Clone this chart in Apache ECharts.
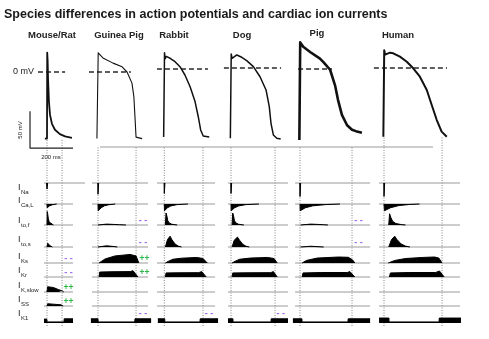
<!DOCTYPE html>
<html>
<head>
<meta charset="utf-8">
<script src="https://cdn.jsdelivr.net/npm/echarts@6/dist/echarts.min.js"></script>
<style>
  html, body { margin: 0; padding: 0; background: #fff; }
  #chart { width: 489px; height: 339px; }
</style>
</head>
<body>
<div id="chart"></div>
<script>
// ---- data -----------------------------------------------------------------
const speciesNames = ['Mouse/Rat', 'Guinea Pig', 'Rabbit', 'Dog', 'Pig', 'Human'];
const currentRows = ['Na', 'Ca,L', 'to,f', 'to,s', 'Ks', 'Kr', 'K,slow', 'SS', 'K1'];

// action potentials: [time from upstroke (ms), membrane potential (mV)]
const apMouse = [[-10, -90], [0, -90], [1, 26], [3, 15], [5, -10], [9, -40], [14, -58], [23, -70], [37, -78], [60, -84], [84, -87], [116, -89]];
const apGuineaPig = [[-5, -90], [0, -90], [1, 26], [23, 19], [70, 12], [112, 7], [135, 0], [158, -15], [167, -34], [172, -61], [177, -88], [183, -90], [205, -90]];
const apRabbit = [[-3, -92], [0, -92], [1, 22], [4, 14], [9, 17], [27, 14.5], [50, 9.9], [73, 3.1], [96, -8.1], [120, -23.9], [143, -44], [158, -64.5], [169, -82.4], [181, -90.5], [209, -92]];
const apDog = [[-3, -95], [0, -95], [1, 19], [5, 13], [11, 15.3], [27, 17.6], [50, 14.5], [73, 9.9], [104, 1.8], [135, -11.8], [163, -29.7], [178, -52.3], [186, -74.7], [197, -90.5], [213, -95], [231, -96]];
const apPig = [[-3, -96], [0, -96], [1, 36], [15, 30], [47, 23], [93, 14], [110, 9], [140, -1], [163, -22], [177, -42], [195, -62], [219, -76], [242, -82], [260, -84], [288, -86]];
const apHuman = [[-3, -93], [0, -93], [1, 24], [5, 18], [12.6, 19], [28, 20.7], [43, 19.9], [74, 15.3], [106, 8.5], [136, -0.4], [167, -11.8], [199, -29.7], [222, -50], [245, -70], [268, -86], [292, -93]];
const apTraces = [apMouse, apGuineaPig, apRabbit, apDog, apPig, apHuman];

const apDuration = [70, 177, 180, 205, 242, 270];                 // ms, end of repolarisation
const zeroRefSpan = [[-42, 84], [-42, 153], [-34, 203], [-33, 233], [-9, 149], [-47, 293]];
const recordSpan = [[-14, 121], [-28, 233], [-34, 236], [-14, 265], [-23, 326], [-23, 353]];
const naRecordSpan = [[-14, 177], [-28, 233], [-34, 236], [-14, 265], [-23, 326], [-23, 353]];

// scale bar: 200 ms x 50 mV
const scaleBarMs = 200;
const scaleBarMv = 50;

// ionic currents, normalised (outward positive, inward negative): [ms, amplitude]
const currentsMouse = {
  'Na': [[-2, 0], [0, -0.4], [1, -0.4], [3, 0]],
  'Ca,L': [[0, 0], [1, -0.25], [5, -0.2], [12, -0.12], [25, -0.05], [45, 0]],
  'to,f': [[0, 0], [1, 0.9], [3, 0.75], [6, 0.45], [10, 0.2], [16, 0.07], [30, 0]],
  'to,s': [[0, 0], [3, 0.25], [8, 0.2], [15, 0.08], [25, 0]],
  'Ks': [], 'Kr': [],
  'K,slow': [[0, 0], [3, 0.35], [10, 0.42], [30, 0.3], [55, 0.15], [70, 0.08], [78, 0]],
  'SS': [[0, 0], [3, 0.15], [30, 0.12], [65, 0.08], [75, 0]],
  'K1': [[-14, 0.26], [-1, 0.26], [0, 0.07], [79, 0.07], [80, 0.28], [121, 0.28]]
};
const currentsGuineaPig = {
  'Na': [[-1, 0], [0, -0.75], [1.5, -0.75], [3, 0]],
  'Ca,L': [[0, 0], [1, -0.45], [5, -0.4], [15, -0.25], [30, -0.12], [50, -0.05], [80, 0]],
  'to,f': [[0, 0], [3, 0.1], [40, 0.06], [100, 0.02], [130, 0]],
  'to,s': [[0, 0], [3, 0.1], [40, 0.08], [75, 0.03], [90, 0]],
  'Ks': [[5, 0], [15, 0.1], [33, 0.27], [79, 0.47], [149, 0.57], [177, 0.47], [190, 0]],
  'Kr': [[5, 0], [8, 0.33], [60, 0.35], [150, 0.36], [163, 0.42], [172, 0.36], [186, 0]],
  'K,slow': [], 'SS': [],
  'K1': [[-33, 0.28], [0, 0.28], [0.5, 0.07], [171, 0.07], [172, 0.28], [247, 0.28]]
};
const currentsRabbit = {
  'Na': [[-1, 0], [0, -0.7], [1.5, -0.7], [3, 0]],
  'Ca,L': [[0, 0], [1, -0.45], [5, -0.4], [15, -0.25], [30, -0.13], [60, -0.04], [110, 0]],
  'to,f': [[5, 0], [8, 0.8], [12, 0.6], [16, 0.3], [22, 0.15], [35, 0.05], [60, 0]],
  'to,s': [[5, 0], [15, 0.5], [27, 0.72], [35, 0.5], [50, 0.2], [65, 0.06], [80, 0]],
  'Ks': [[5, 0], [20, 0.12], [40, 0.25], [80, 0.32], [150, 0.37], [180, 0.3], [200, 0]],
  'Kr': [[5, 0], [8, 0.27], [60, 0.28], [160, 0.29], [174, 0.36], [182, 0.28], [195, 0]],
  'K,slow': [], 'SS': [],
  'K1': [[-30, 0.28], [2, 0.28], [2.5, 0.07], [166, 0.07], [167, 0.28], [250, 0.28]]
};
const currentsDog = {
  'Na': [[-1, 0], [0, -0.7], [1.5, -0.7], [3, 0]],
  'Ca,L': [[0, 0], [1, -0.45], [5, -0.4], [15, -0.27], [35, -0.13], [70, -0.04], [130, 0]],
  'to,f': [[5, 0], [8, 0.8], [12, 0.6], [16, 0.3], [22, 0.15], [35, 0.05], [60, 0]],
  'to,s': [[5, 0], [15, 0.45], [30, 0.66], [40, 0.45], [55, 0.18], [70, 0.05], [85, 0]],
  'Ks': [[5, 0], [20, 0.12], [40, 0.25], [90, 0.33], [170, 0.37], [200, 0.3], [215, 0]],
  'Kr': [[5, 0], [8, 0.27], [70, 0.28], [185, 0.29], [197, 0.36], [205, 0.28], [215, 0]],
  'K,slow': [], 'SS': [],
  'K1': [[-14, 0.28], [9, 0.28], [9.5, 0.07], [186, 0.07], [187, 0.28], [265, 0.28]]
};
const currentsPig = {
  'Na': [[-1, 0], [0, -0.9], [1.5, -0.9], [3, 0]],
  'Ca,L': [[0, 0], [1, -0.45], [8, -0.38], [25, -0.25], [60, -0.12], [120, -0.04], [186, 0]],
  'to,f': [[3, 0], [6, 0.1], [50, 0.06], [110, 0.02], [130, 0]],
  'to,s': [[3, 0], [6, 0.08], [50, 0.05], [110, 0]],
  'Ks': [[10, 0], [30, 0.17], [80, 0.33], [180, 0.4], [225, 0.38], [245, 0.2], [255, 0]],
  'Kr': [[10, 0], [14, 0.27], [100, 0.3], [220, 0.3], [232, 0.36], [240, 0.28], [255, 0]],
  'K,slow': [], 'SS': [],
  'K1': [[-33, 0.28], [9, 0.28], [9.5, 0.07], [223, 0.07], [224, 0.28], [326, 0.28]]
};
const currentsHuman = {
  'Na': [[-1, 0], [0, -0.9], [1.5, -0.9], [3, 0]],
  'Ca,L': [[0, 0], [2, -0.45], [10, -0.38], [30, -0.25], [70, -0.1], [120, -0.03], [165, 0]],
  'to,f': [[22, 0], [26, 0.75], [32, 0.5], [40, 0.25], [55, 0.1], [80, 0.03], [100, 0]],
  'to,s': [[22, 0], [35, 0.5], [50, 0.72], [60, 0.5], [80, 0.2], [100, 0.06], [120, 0]],
  'Ks': [[20, 0], [50, 0.17], [100, 0.3], [180, 0.37], [235, 0.4], [255, 0.33], [270, 0]],
  'Kr': [[25, 0], [30, 0.27], [120, 0.3], [240, 0.3], [258, 0.4], [266, 0.3], [280, 0]],
  'K,slow': [], 'SS': [],
  'K1': [[-23, 0.33], [23, 0.33], [23.5, 0.07], [256, 0.07], [257, 0.33], [358, 0.33]]
};
const currentSets = [currentsMouse, currentsGuineaPig, currentsRabbit, currentsDog, currentsPig, currentsHuman];

// expression relative to human: [species index, current, sign, time (ms)]
const changeMarks = [
  [0, 'Ks', '- -', 100], [0, 'Kr', '- -', 100], [0, 'K,slow', '++', 100], [0, 'SS', '++', 100],
  [1, 'to,f', '- -', 209], [1, 'to,s', '- -', 209], [1, 'Ks', '++', 216], [1, 'Kr', '++', 216], [1, 'K1', '- -', 209],
  [2, 'K1', '- -', 208], [3, 'K1', '- -', 231],
  [4, 'to,f', '- -', 272], [4, 'to,s', '- -', 272]
];

// ---- layout ---------------------------------------------------------------
const FONT = '"Liberation Sans", Arial, sans-serif';
const PX_PER_MS = 0.215;
const PX_PER_MV = 0.74;
const T_MIN = -100, T_MAX = 380;
const V_MIN = -120, V_MAX = 60;
const onsetX = [47, 98, 164.3, 231, 300, 384];
const zeroY = [72, 72, 69, 68, 69, 68];
const rowY = [183, 204, 225, 247, 263, 277, 292, 306, 323];
const rowHalf = 15;
const dotTop = [139, 147, 147, 147, 147, 137];
const dotBottom = 326;
const apWidth = [1.8, 1.1, 1.5, 1.5, 2.6, 2.0];

const grids = [], xAxes = [], yAxes = [], series = [];
function addGrid(left, top, width, height, yMin, yMax) {
  const n = grids.length;
  grids.push({ left, top, width, height, containLabel: false, show: false });
  xAxes.push({ type: 'value', gridIndex: n, min: T_MIN, max: T_MAX, show: false });
  yAxes.push({ type: 'value', gridIndex: n, min: yMin, max: yMax, show: false });
  return n;
}
function line(g, data, lineStyle, extra) {
  return Object.assign({
    type: 'line', xAxisIndex: g, yAxisIndex: g, data, symbol: 'none', showSymbol: false,
    silent: true, animation: false, lineStyle
  }, extra || {});
}

speciesNames.forEach((name, i) => {
  const left = onsetX[i] + T_MIN * PX_PER_MS;
  const width = (T_MAX - T_MIN) * PX_PER_MS;

  // action potential panel
  const ga = addGrid(left, zeroY[i] - V_MAX * PX_PER_MV, width, (V_MAX - V_MIN) * PX_PER_MV, V_MIN, V_MAX);
  series.push(line(ga, zeroRefSpan[i].map(t => [t, 0]), { color: '#2a2a2a', width: 1.4, type: [5, 3] }, { z: 2 }));
  series.push(line(ga, apTraces[i], { color: '#111', width: apWidth[i], join: 'round' }, { z: 3 }));
  if (i === 0) {
    const t0 = -79, v0 = -103;
    series.push(line(ga, [[t0, v0 + scaleBarMv], [t0, v0], [t0 + scaleBarMs, v0]], { color: '#222', width: 1.2 }));
  }

  // current rows
  currentRows.forEach((cur, r) => {
    const g = addGrid(left, rowY[r] - rowHalf, width, rowHalf * 2, -1, 1);
    if (cur !== 'K1') {
      const span = cur === 'Na' ? naRecordSpan[i] : recordSpan[i];
      series.push(line(g, span.map(t => [t, 0]), { color: '#9a9a9a', width: 1 }, { z: 1 }));
    }
    const d = currentSets[i][cur];
    if (d && d.length) {
      series.push(line(g, d, { color: '#000', width: 1 },
        { areaStyle: { color: '#000', opacity: 1 }, z: 3 }));
    }
    changeMarks.filter(m => m[0] === i && m[1] === cur).forEach(m => {
      const up = m[2] === '++';
      series.push({
        type: 'scatter', xAxisIndex: g, yAxisIndex: g, silent: true, animation: false,
        symbol: 'circle', symbolSize: 0, itemStyle: { color: 'rgba(0,0,0,0)' },
        data: [[m[3], cur === 'K1' ? 0.62 : 0.3]],
        label: {
          show: true, position: 'inside', formatter: m[2], opacity: 1,
          color: up ? '#2fb84a' : '#9a66f0', fontFamily: FONT, fontWeight: 'bold',
          fontSize: up ? 8.5 : 9
        }, z: 5
      });
    });
  });

  // start / end of the action potential
  const gd = addGrid(left, dotTop[i], width, dotBottom - dotTop[i], 0, 1);
  [0, apDuration[i]].forEach(t => {
    series.push(line(gd, [[t, 0], [t, 1]], { color: '#666', width: 0.8, type: [1, 1.5] }, { z: 0 }));
  });
});

// ---- text -----------------------------------------------------------------
const graphic = [];
function txt(x, y, text, font, fill, align, extra) {
  graphic.push(Object.assign({
    type: 'text', x, y, silent: true,
    style: { text, font, fill: fill || '#1a1a1a', align: align || 'left', verticalAlign: 'middle' }
  }, extra || {}));
}
txt(4, 15, 'Species differences in action potentials and cardiac ion currents', 'bold 12.5px ' + FONT, '#1a1a1a');
const nameX = [52, 119, 174, 242, 317, 398];
const nameY = [35, 35, 35, 35, 33, 35];
speciesNames.forEach((n, i) => txt(nameX[i], nameY[i], n, 'bold 9.5px ' + FONT, '#222', 'center'));
txt(13, 72, '0 mV', '9px ' + FONT, '#222');
txt(20, 130, '50 mV', '6px ' + FONT, '#222', 'center', { rotation: Math.PI / 2 });
txt(51, 157, '200 ms', '6px ' + FONT, '#222', 'center');

const labelY = [188, 201, 221, 240, 257, 271, 286, 300, 314];
currentRows.forEach((cur, r) => {
  txt(18, labelY[r], 'I', '9px ' + FONT, '#222');
  txt(21, labelY[r] + 4, cur, '6px ' + FONT, '#222');
});

// horizontal separator under the action potentials
graphic.push({ type: 'line', silent: true, shape: { x1: 100, y1: 147, x2: 433, y2: 147 }, style: { stroke: '#9a9a9a', lineWidth: 1 } });

const chart = echarts.init(document.getElementById('chart'), null, { renderer: 'canvas' });
chart.setOption({
  backgroundColor: '#fff',
  animation: false,
  grid: grids, xAxis: xAxes, yAxis: yAxes,
  series, graphic
});
</script>
</body>
</html>
